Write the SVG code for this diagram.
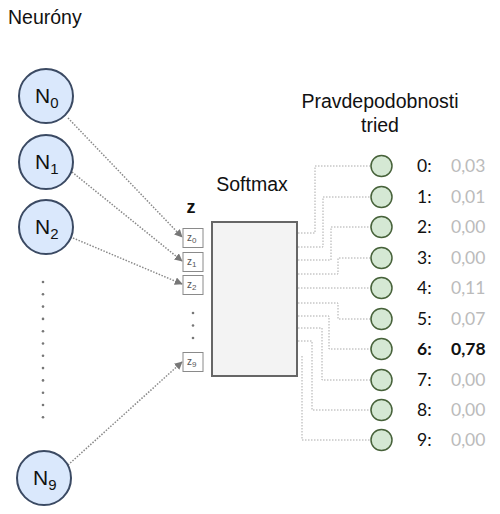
<svg xmlns="http://www.w3.org/2000/svg" width="500" height="514" viewBox="0 0 500 514">
<defs>
<marker id="ah" viewBox="0 0 10 10" refX="9" refY="5" markerWidth="8" markerHeight="8" markerUnits="userSpaceOnUse" orient="auto">
<path d="M0,0 L10,5 L0,10 Z" fill="#777"/>
</marker>
<style>
.lbl{font-family:"Liberation Sans",Arial,sans-serif;font-size:19.5px;fill:#111}
.neu{fill:#dae8fc;stroke:#3b4a63;stroke-width:2}
.ntx{font-family:"Liberation Sans",Arial,sans-serif;font-size:21px;fill:#111}
.zb{fill:#fff;stroke:#8a8a8a;stroke-width:1}
.ztx{font-family:"Liberation Sans",Arial,sans-serif;font-size:10px;fill:#555}
.out{fill:#d5e8d4;stroke:#47623a;stroke-width:1.5}
.conn{fill:none;stroke:#888;stroke-width:1.5;stroke-dasharray:1.5 1.5}
.conn2{fill:none;stroke:#aaa;stroke-width:1;stroke-dasharray:1.5 1.5}
.dot{fill:#777}
.num{font-family:Lato,"Open Sans",sans-serif;font-size:17.5px;fill:#111}
.val{font-family:Lato,"Open Sans",sans-serif;font-size:17.5px;fill:#bbb}
</style>
</defs>
<rect width="500" height="514" fill="#fff"/>

<text class="lbl" x="8" y="24">Neuróny</text>
<text class="lbl" x="380" y="108" text-anchor="middle">Pravdepodobnosti</text>
<text class="lbl" x="380" y="132" text-anchor="middle">tried</text>
<text class="lbl" x="252" y="191" text-anchor="middle">Softmax</text>
<text x="191" y="213" text-anchor="middle" style="font-family:'Liberation Sans',Arial,sans-serif;font-size:18px;font-weight:bold;fill:#111">z</text>

<g id="connectors">
<line class="conn" x1="68" y1="118" x2="182" y2="237" marker-end="url(#ah)"/>
<line class="conn" x1="72" y1="172" x2="182" y2="261" marker-end="url(#ah)"/>
<line class="conn" x1="73" y1="238" x2="182" y2="284" marker-end="url(#ah)"/>
<line class="conn" x1="68" y1="465" x2="182" y2="362" marker-end="url(#ah)"/>
<polyline class="conn2" points="298,233 315,233 315,166 371,166"/>
<polyline class="conn2" points="298,247 323,247 323,197 371,197"/>
<polyline class="conn2" points="298,260 331,260 331,227 371,227"/>
<polyline class="conn2" points="298,274 338,274 338,258 371,258"/>
<polyline class="conn2" points="298,288 371,288"/>
<polyline class="conn2" points="298,303 338,303 338,319 371,319"/>
<polyline class="conn2" points="298,316 329,316 329,349 371,349"/>
<polyline class="conn2" points="298,328 322,328 322,380 371,380"/>
<polyline class="conn2" points="298,341 312,341 312,410 371,410"/>
<polyline class="conn2" points="302,356 302,440 371,440"/>
</g>

<g id="N0"><circle class="neu" cx="46" cy="96" r="27"/><text class="ntx" x="35" y="103">N<tspan font-size="15" dy="5">0</tspan></text></g>
<g id="N1"><circle class="neu" cx="46" cy="162" r="27"/><text class="ntx" x="35" y="169">N<tspan font-size="15" dy="5">1</tspan></text></g>
<g id="N2"><circle class="neu" cx="46" cy="227" r="27"/><text class="ntx" x="35" y="234">N<tspan font-size="15" dy="5">2</tspan></text></g>
<g id="N9"><circle class="neu" cx="44" cy="478" r="27"/><text class="ntx" x="33" y="485">N<tspan font-size="15" dy="5">9</tspan></text></g>

<g id="ndots">
<circle class="dot" cx="43" cy="282" r="1.3"/><circle class="dot" cx="43" cy="294.3" r="1.3"/><circle class="dot" cx="43" cy="306.6" r="1.3"/><circle class="dot" cx="43" cy="318.9" r="1.3"/><circle class="dot" cx="43" cy="331.2" r="1.3"/><circle class="dot" cx="43" cy="343.5" r="1.3"/><circle class="dot" cx="43" cy="355.8" r="1.3"/><circle class="dot" cx="43" cy="368.1" r="1.3"/><circle class="dot" cx="43" cy="380.4" r="1.3"/><circle class="dot" cx="43" cy="392.7" r="1.3"/><circle class="dot" cx="43" cy="405" r="1.3"/><circle class="dot" cx="43" cy="417.3" r="1.3"/>
</g>

<g id="z0"><rect class="zb" x="183" y="228.5" width="20" height="19"/><text class="ztx" x="187" y="241">z<tspan font-size="8" dy="2">0</tspan></text></g>
<g id="z1"><rect class="zb" x="183" y="252.5" width="20" height="19"/><text class="ztx" x="187" y="265">z<tspan font-size="8" dy="2">1</tspan></text></g>
<g id="z2"><rect class="zb" x="183" y="275.5" width="20" height="19"/><text class="ztx" x="187" y="288">z<tspan font-size="8" dy="2">2</tspan></text></g>
<g id="z9"><rect class="zb" x="183" y="352.5" width="20" height="19"/><text class="ztx" x="187" y="365">z<tspan font-size="8" dy="2">9</tspan></text></g>
<g id="zdots"><circle class="dot" cx="193" cy="313" r="1.3"/><circle class="dot" cx="193" cy="325.5" r="1.3"/><circle class="dot" cx="193" cy="338" r="1.3"/></g>

<g id="softmax"><rect x="212" y="222" width="85" height="154" fill="#f3f3f3" stroke="#666" stroke-width="2"/></g>

<g id="o0"><circle class="out" cx="381.5" cy="166" r="10.5"/><text class="num" x="417" y="172">0:</text><text class="val" x="451" y="172">0,03</text></g>
<g id="o1"><circle class="out" cx="381.5" cy="197" r="10.5"/><text class="num" x="417" y="203">1:</text><text class="val" x="451" y="203">0,01</text></g>
<g id="o2"><circle class="out" cx="381.5" cy="227" r="10.5"/><text class="num" x="417" y="233">2:</text><text class="val" x="451" y="233">0,00</text></g>
<g id="o3"><circle class="out" cx="381.5" cy="258" r="10.5"/><text class="num" x="417" y="264">3:</text><text class="val" x="451" y="264">0,00</text></g>
<g id="o4"><circle class="out" cx="381.5" cy="288" r="10.5"/><text class="num" x="417" y="294">4:</text><text class="val" x="451" y="294">0,11</text></g>
<g id="o5"><circle class="out" cx="381.5" cy="319" r="10.5"/><text class="num" x="417" y="325">5:</text><text class="val" x="451" y="325">0,07</text></g>
<g id="o6"><circle class="out" cx="381.5" cy="349" r="10.5"/><text class="num" x="417" y="355" font-weight="bold">6:</text><text class="num" x="451" y="355" font-weight="bold">0,78</text></g>
<g id="o7"><circle class="out" cx="381.5" cy="380" r="10.5"/><text class="num" x="417" y="386">7:</text><text class="val" x="451" y="386">0,00</text></g>
<g id="o8"><circle class="out" cx="381.5" cy="410" r="10.5"/><text class="num" x="417" y="416">8:</text><text class="val" x="451" y="416">0,00</text></g>
<g id="o9"><circle class="out" cx="381.5" cy="440" r="10.5"/><text class="num" x="417" y="446">9:</text><text class="val" x="451" y="446">0,00</text></g>
</svg>
